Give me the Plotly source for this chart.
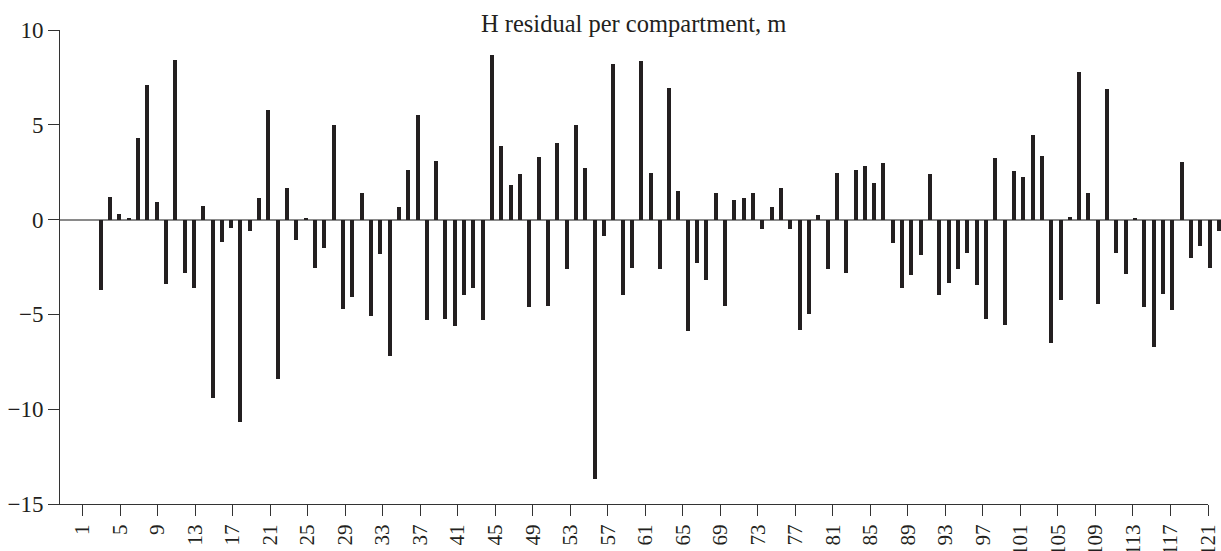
import plotly.graph_objects as go

# ---- data ----
compartments = list(range(1, 122))
residuals = [
    -3.7, 1.2, 0.3, 0.1, 4.3, 7.1, 0.95, -3.4, 8.4, -2.8,
    -3.6, 0.7, -9.4, -1.2, -0.45, -10.7, -0.6, 1.15, 5.8, -8.4,
    1.65, -1.05, 0.1, -2.55, -1.5, 5.0, -4.7, -4.1, 1.4, -5.1,
    -1.8, -7.2, 0.67, 2.6, 5.5, -5.3, 3.1, -5.25, -5.6, -4.0,
    -3.6, -5.3, 8.7, 3.9, 1.85, 2.4, -4.6, 3.3, -4.55, 4.05,
    -2.6, 5.0, 2.7, -13.7, -0.85, 8.2, -4.0, -2.55, 8.35, 2.45,
    -2.6, 6.95, 1.5, -5.9, -2.3, -3.2, 1.4, -4.55, 1.05, 1.15,
    1.4, -0.5, 0.65, 1.65, -0.5, -5.8, -5.0, 0.25, -2.6, 2.45,
    -2.8, 2.6, 2.85, 1.95, 3.0, -1.25, -3.6, -2.9, -1.85, 2.4,
    -4.0, -3.35, -2.6, -1.75, -3.45, -5.25, 3.25, -5.55, 2.55, 2.25,
    4.45, 3.35, -6.5, -4.25, 0.15, 7.8, 1.4, -4.45, 6.9, -1.75,
    -2.85, 0.1, -4.6, -6.7, -3.9, -4.75, 3.05, -2.0, -1.4, -2.55,
    -0.6,
]
x_tick_vals = list(range(1, 122, 4))
x_tick_text = [str(v) for v in x_tick_vals]
y_tick_vals = [-15, -10, -5, 0, 5, 10]
y_tick_text = ["\u221215", "\u221210", "\u22125", "0", "5", "10"]
title_text = "H residual per compartment, m"

INK = "#231f20"
AXIS = "#333333"
SERIF = "Liberation Serif, Times New Roman, serif"

fig = go.Figure()
# empty trace so the labelled compartment axis (x) exists as a subplot
fig.add_trace(go.Scatter(x=[], y=[], xaxis="x", yaxis="y",
                         showlegend=False, hoverinfo="skip"))
# the residual bars
fig.add_trace(go.Bar(
    x=compartments, y=residuals,
    marker=dict(color=INK, line=dict(width=0)),
    width=0.43,
    xaxis="x2", yaxis="y",
    showlegend=False,
))

fig.update_layout(
    width=1221, height=551,
    template="none",
    paper_bgcolor="white", plot_bgcolor="white",
    margin=dict(l=60, r=0, t=30, b=47, pad=0),
    title=dict(text=title_text, x=0.519, xanchor="center",
               y=0.958, yanchor="middle",
               font=dict(family=SERIF, size=24.5, color=INK)),
    xaxis=dict(domain=[0, 0.9888], range=[-1.4, 121], anchor="y",
               tickmode="array", tickvals=x_tick_vals, ticktext=x_tick_text,
               ticks="outside", ticklen=11, tickwidth=1, tickcolor=AXIS,
               showline=True, linecolor=AXIS, linewidth=1,
               tickangle=-90, showgrid=False, zeroline=False,
               tickfont=dict(family=SERIF, size=21, color=INK)),
    xaxis2=dict(domain=[0, 1], range=[-3.367, 121.22], anchor="y",
                visible=False, showgrid=False, zeroline=False),
    yaxis=dict(range=[-15, 10], anchor="x",
               tickmode="array", tickvals=y_tick_vals, ticktext=y_tick_text,
               ticks="outside", ticklen=11, tickwidth=1, tickcolor=AXIS,
               showline=True, linecolor=AXIS, linewidth=1,
               showgrid=False, zeroline=True, zerolinecolor="#8a8a8a",
               zerolinewidth=1.5,
               tickfont=dict(family=SERIF, size=23, color=INK)),
    bargap=0,
)

fig.write_html("out.html",
               config={"displayModeBar": False},
               post_script="document.body.style.margin='0';")
